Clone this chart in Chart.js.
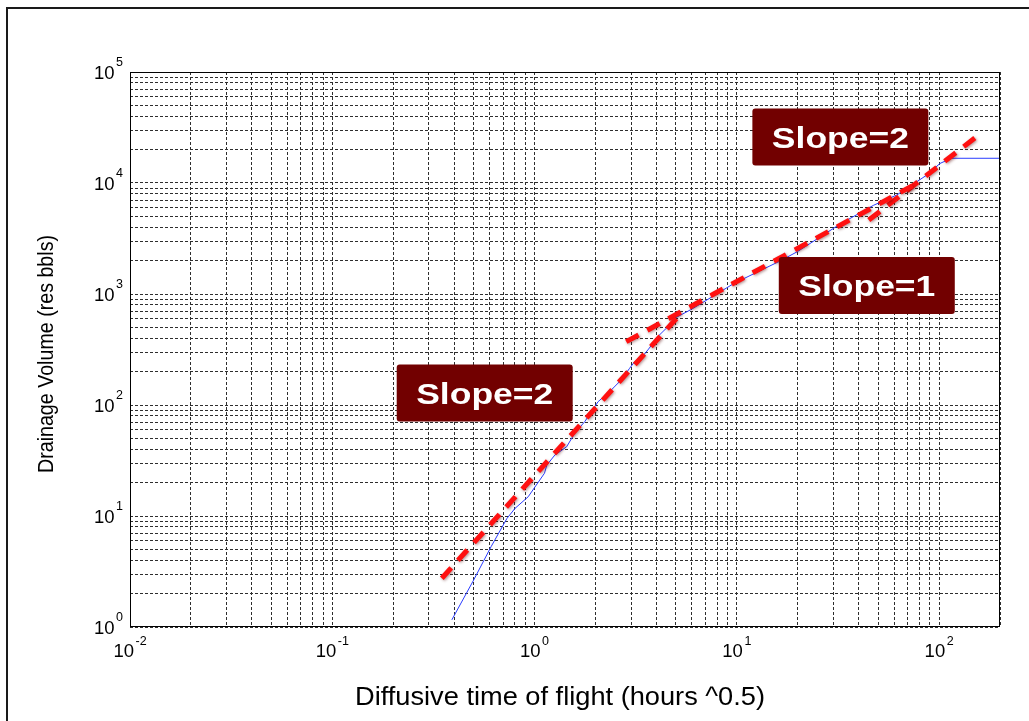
<!DOCTYPE html>
<html>
<head>
<meta charset="utf-8">
<script src="https://cdn.jsdelivr.net/npm/chart.js@4/dist/chart.umd.min.js"></script>
<style>
  html, body { margin: 0; padding: 0; background: #ffffff; }
  #wrap { width: 1029px; height: 721px; position: relative; }
</style>
</head>
<body>
<div id="wrap"><canvas id="chart" width="1029" height="721"></canvas></div>
<script>
// Drainage volume (res bbls) against diffusive time of flight (hours^0.5)
const flightTime = [0.39, 0.50, 0.61, 0.73, 0.80, 0.93, 1.12, 1.15, 1.26, 1.44, 1.58, 1.77, 2.06, 2.39,
                    2.68, 2.95, 3.12, 3.30, 3.63, 3.91, 4.06, 4.56, 4.91, 5.90, 6.65, 9.7, 16.1, 19.9,
                    32.5, 47.5, 61.8, 69.3, 87, 101, 115, 200];
const drainageVolume = [1.16, 2.65, 5.3, 9.5, 11.7, 14.9, 24.3, 28.8, 35.4, 42, 55.6, 70.8, 107, 136,
                        168, 214, 245, 254, 313, 372, 412, 507, 603, 720, 820, 1248, 1955, 2404,
                        4280, 6310, 7800, 8960, 11800, 15000, 16700, 16700];

// Straight-line trends on the log-log plot (end points)
const earlyTrendX = [0.348, 5.3];
const earlyTrendY = [2.75, 670];
const middleTrendX = [2.84, 80.6];
const middleTrendY = [372, 10300];
const lateTrendX = [44.9, 153];
const lateTrendY = [4640, 26100];

// Axis extents and decade exponents
const xRange = [0.01, 200];
const yRange = [1, 100000];
const xDecades = [-2, -1, 0, 1, 2];
const yDecades = [0, 1, 2, 3, 4, 5];

// Trend annotations, anchored at (time, volume)
const slopeTexts = ['Slope=2', 'Slope=1', 'Slope=2'];
const slopeAnchorX = [0.567, 43.9, 32.5];
const slopeAnchorY = [128, 1194, 25960];

const toPoints = (xs, ys) => xs.map((x, i) => ({ x: x, y: ys[i] }));

// ticks at 1..9 of every decade, so every grid line is drawn
function logTicks(scale) {
  const min = scale.min, max = scale.max;
  const out = [];
  const d0 = Math.floor(Math.log10(min)), d1 = Math.ceil(Math.log10(max));
  for (let d = d0; d <= d1; d++) {
    for (let m = 1; m <= 9; m++) {
      const v = +(m * Math.pow(10, d)).toPrecision(6);
      if (v >= min * 0.9999 && v <= max * 1.0001) out.push({ value: v, major: m === 1 });
    }
  }
  scale.ticks = out;
}

const FONT = '"Liberation Sans", Arial, Helvetica, sans-serif';

function drawPower(ctx, exp, x, y, mode) {
  ctx.save();
  ctx.fillStyle = '#000';
  ctx.textBaseline = 'alphabetic';
  ctx.textAlign = 'left';
  const baseFont = '18.5px ' + FONT, supFont = '12.5px ' + FONT;
  ctx.font = baseFont;
  const wb = ctx.measureText('10').width;
  ctx.font = supFont;
  const es = String(exp);
  const we = ctx.measureText(es).width;
  const gap = 1.5;
  let left, base, sup;
  if (mode === 'x') {
    left = x - (wb + gap + we) / 2;
    base = 657;
    sup = 645;
  } else {
    left = x - (wb + gap + we);
    base = y + 6.5;
    sup = y - 6.5;
  }
  ctx.font = baseFont;
  ctx.fillText('10', left, base);
  ctx.font = supFont;
  ctx.fillText(es, left + wb + gap, sup);
  ctx.restore();
}

const decorations = {
  id: 'decorations',
  beforeDatasetDraw(chart, args) {
    const ds = chart.data.datasets[args.index];
    if (ds.glow) {
      const ctx = chart.ctx;
      ctx.save();
      ctx.shadowColor = 'rgba(80,0,0,0.45)';
      ctx.shadowBlur = 3;
      ctx.shadowOffsetX = 1;
      ctx.shadowOffsetY = 1;
    }
  },
  afterDatasetDraw(chart, args) {
    const ds = chart.data.datasets[args.index];
    if (ds.glow) chart.ctx.restore();
  },
  afterDraw(chart) {
    const ctx = chart.ctx;
    const a = chart.chartArea;
    const xs = chart.scales.x, ys = chart.scales.y;

    // axes box
    ctx.save();
    ctx.strokeStyle = '#000';
    ctx.lineWidth = 1;
    ctx.setLineDash([]);
    ctx.strokeRect(Math.round(a.left) + 0.5, Math.round(a.top) + 0.5,
                   Math.round(a.right - a.left) - 1, Math.round(a.bottom - a.top) - 1);
    ctx.restore();

    // decade tick labels
    xDecades.forEach(d => drawPower(ctx, d, xs.getPixelForValue(Math.pow(10, d)), 0, 'x'));
    yDecades.forEach(d => drawPower(ctx, d, a.left - 7, ys.getPixelForValue(Math.pow(10, d)), 'y'));

    // axis titles
    ctx.save();
    ctx.fillStyle = '#000';
    ctx.textAlign = 'center';
    ctx.textBaseline = 'alphabetic';
    ctx.font = '25px ' + FONT;
    const xt = 'Diffusive time of flight (hours ^0.5)';
    const xw = ctx.measureText(xt).width;
    ctx.save();
    ctx.translate(560, 705);
    ctx.scale(410 / xw, 1);
    ctx.fillText(xt, 0, 0);
    ctx.restore();
    ctx.font = '21.5px ' + FONT;
    ctx.textBaseline = 'middle';
    const yt = 'Drainage Volume (res bbls)';
    const yw = ctx.measureText(yt).width;
    ctx.translate(47, 354);
    ctx.rotate(-Math.PI / 2);
    ctx.scale(238 / yw, 1);
    ctx.fillText(yt, 0, 0);
    ctx.restore();

    // slope annotations
    slopeTexts.forEach((t, i) => {
      const cx = xs.getPixelForValue(slopeAnchorX[i]);
      const cy = ys.getPixelForValue(slopeAnchorY[i]);
      const w = 176, h = 57;
      ctx.save();
      ctx.fillStyle = '#720000';
      ctx.beginPath();
      if (ctx.roundRect) ctx.roundRect(cx - w / 2, cy - h / 2, w, h, 3);
      else ctx.rect(cx - w / 2, cy - h / 2, w, h);
      ctx.fill();
      ctx.font = 'bold 29px ' + FONT;
      const tw = ctx.measureText(t).width;
      const sx = 137 / tw;
      ctx.translate(cx, cy + 10.5);
      ctx.scale(sx, 1);
      ctx.fillStyle = '#ffffff';
      ctx.textAlign = 'center';
      ctx.textBaseline = 'alphabetic';
      ctx.fillText(t, 0, 0);
      ctx.restore();
    });

    // figure frame
    ctx.save();
    ctx.strokeStyle = '#1a1a1a';
    ctx.lineWidth = 2;
    ctx.beginPath();
    ctx.moveTo(7, 721);
    ctx.lineTo(7, 8);
    ctx.lineTo(1029, 8);
    ctx.stroke();
    ctx.restore();
  }
};

const gridStyle = { color: '#2e2e2e', lineWidth: 1, drawTicks: false };
const dotted = { display: false, dash: [3, 2] };

new Chart(document.getElementById('chart'), {
  type: 'line',
  data: {
    datasets: [
      { label: 'early', data: toPoints(earlyTrendX, earlyTrendY), borderColor: '#ff1010',
        borderWidth: 5, borderDash: [14, 10], pointRadius: 0, glow: true, order: 1 },
      { label: 'middle', data: toPoints(middleTrendX, middleTrendY), borderColor: '#ff1010',
        borderWidth: 5, borderDash: [14, 10], pointRadius: 0, glow: true, order: 1 },
      { label: 'late', data: toPoints(lateTrendX, lateTrendY), borderColor: '#ff1010',
        borderWidth: 5, borderDash: [14, 10], pointRadius: 0, glow: true, order: 1 },
      { label: 'volume', data: toPoints(flightTime, drainageVolume), borderColor: '#2a3cff',
        borderWidth: 1, pointRadius: 0, order: 2 }
    ]
  },
  options: {
    responsive: false,
    animation: false,
    events: [],
    layout: { padding: { left: 0, top: 72, right: 29, bottom: 0 } },
    plugins: { legend: { display: false }, tooltip: { enabled: false } },
    elements: { line: { tension: 0, fill: false } },
    scales: {
      x: {
        type: 'logarithmic', min: xRange[0], max: xRange[1],
        afterBuildTicks: logTicks,
        afterFit: s => { s.height = 94; },
        ticks: { display: false, autoSkip: false },
        grid: gridStyle, border: dotted
      },
      y: {
        type: 'logarithmic', min: yRange[0], max: yRange[1],
        afterBuildTicks: logTicks,
        afterFit: s => { s.width = 130; },
        ticks: { display: false, autoSkip: false },
        grid: gridStyle, border: dotted
      }
    }
  },
  plugins: [decorations]
});
</script>
</body>
</html>
